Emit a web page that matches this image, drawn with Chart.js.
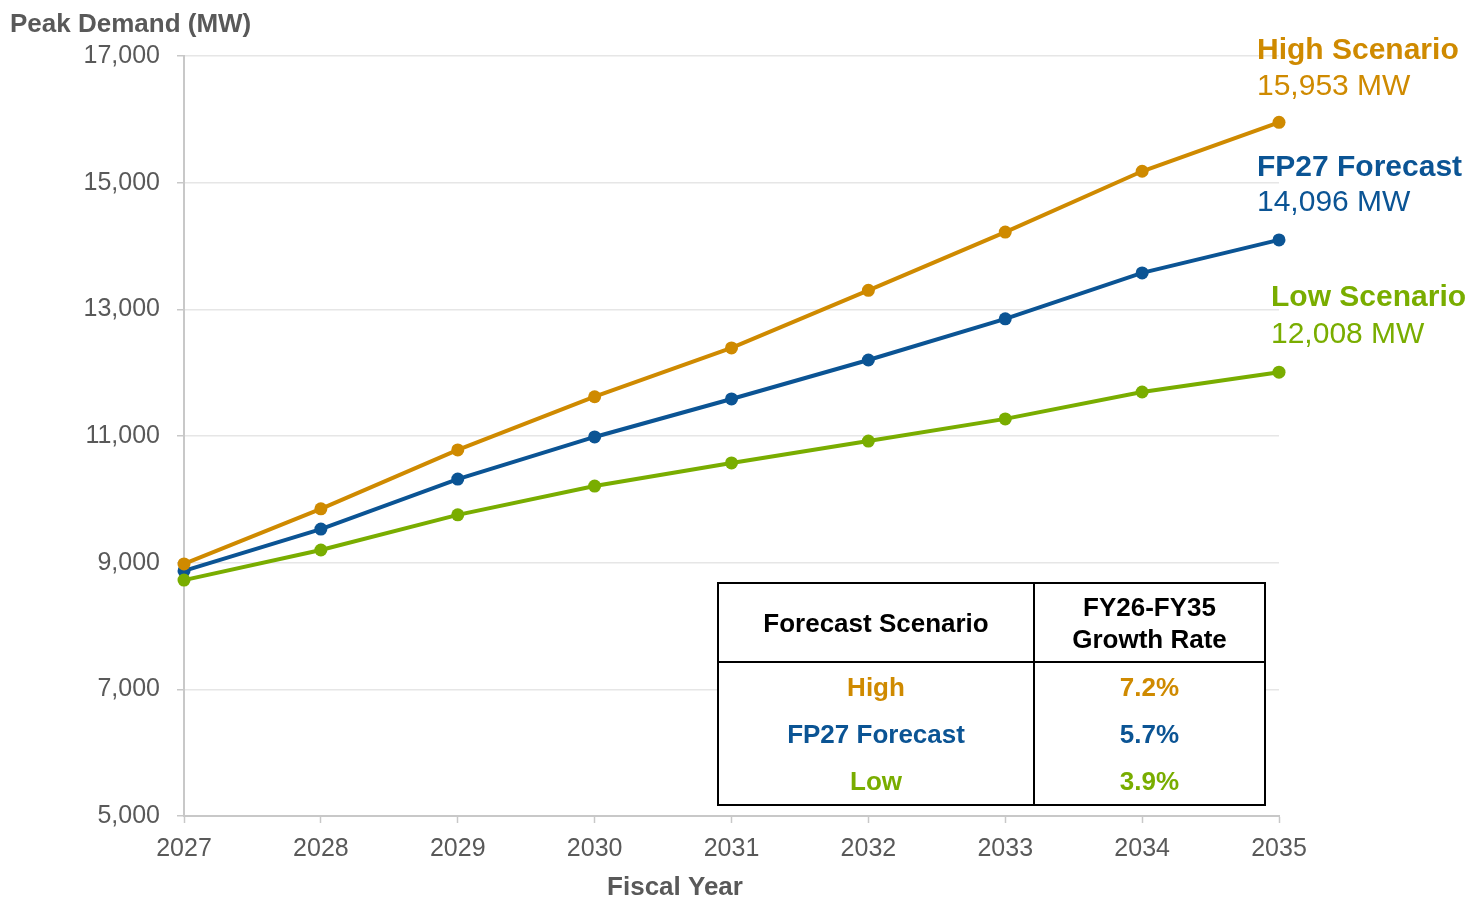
<!DOCTYPE html>
<html>
<head>
<meta charset="utf-8">
<script src="https://cdn.jsdelivr.net/npm/chart.js@4.4.1/dist/chart.umd.min.js"></script>
<style>
  html, body { margin: 0; padding: 0; background: #ffffff; }
  #wrap { position: relative; width: 1473px; height: 899px; }
</style>
</head>
<body>
<div id="wrap"><canvas id="c"></canvas></div>
<script>
// ---- Data ----
const years = ['2027', '2028', '2029', '2030', '2031', '2032', '2033', '2034', '2035'];
const highScenario = [8980, 9850, 10780, 11620, 12390, 13300, 14220, 15180, 15953];
const fp27Forecast = [8870, 9530, 10320, 10985, 11585, 12200, 12850, 13575, 14096];
const lowScenario  = [8725, 9200, 9755, 10210, 10575, 10920, 11270, 11695, 12008];
const seriesNames = ['High Scenario', 'FP27 Forecast', 'Low Scenario'];
const endLabels = ['15,953 MW', '14,096 MW', '12,008 MW'];
const tableScenarios = ['High', 'FP27 Forecast', 'Low'];
const tableRates = ['7.2%', '5.7%', '3.9%'];
const tableHeaders = ['Forecast Scenario', 'FY26-FY35', 'Growth Rate'];
const yTicks = [5000, 7000, 9000, 11000, 13000, 15000, 17000];
const yAxisTitle = 'Peak Demand (MW)';
const xAxisTitle = 'Fiscal Year';

const ORANGE = '#CF8A00';
const BLUE = '#0B5494';
const GREEN = '#79AD00';
const GREY_TEXT = '#595959';
const FONT = '"Liberation Sans", Arial, sans-serif';

function fmt(v) { return v.toString().replace(/\B(?=(\d{3})+(?!\d))/g, ','); }

const annotations = {
  id: 'annotations',
  afterDraw(chart) {
    const ctx = chart.ctx;
    const y = chart.scales.y;
    ctx.save();
    // axis titles
    ctx.fillStyle = GREY_TEXT;
    ctx.font = 'bold 26px ' + FONT;
    ctx.textAlign = 'left';
    ctx.textBaseline = 'alphabetic';
    ctx.fillText(yAxisTitle, 10, 32);
    ctx.textAlign = 'center';
    ctx.fillText(xAxisTitle, 675, 895);

    // end labels
    const sets = [highScenario, fp27Forecast, lowScenario];
    const cols = [ORANGE, BLUE, GREEN];
    const xs = [1257, 1257, 1271];
    const offs = [[63, 27], [64, 29], [66, 29]];
    for (let i = 0; i < 3; i++) {
      const last = sets[i][sets[i].length - 1];
      const py = y.getPixelForValue(last);
      ctx.fillStyle = cols[i];
      ctx.textAlign = 'left';
      ctx.font = 'bold 30px ' + FONT;
      ctx.fillText(seriesNames[i], xs[i], py - offs[i][0]);
      ctx.font = '30px ' + FONT;
      ctx.fillText(endLabels[i], xs[i], py - offs[i][1]);
    }

    // table
    const L = 718, R = 1265, T = 583, B = 805, MID = 1034, HB = 662;
    ctx.fillStyle = '#ffffff';
    ctx.fillRect(L, T, R - L, B - T);
    ctx.strokeStyle = '#000000';
    ctx.lineWidth = 2;
    ctx.strokeRect(L, T, R - L, B - T);
    ctx.beginPath();
    ctx.moveTo(MID, T); ctx.lineTo(MID, B);
    ctx.moveTo(L, HB); ctx.lineTo(R, HB);
    ctx.stroke();
    const c1 = (L + MID) / 2, c2 = (MID + R) / 2;
    ctx.font = 'bold 26px ' + FONT;
    ctx.textAlign = 'center';
    ctx.textBaseline = 'middle';
    ctx.fillStyle = '#000000';
    ctx.fillText(tableHeaders[0], c1, 625);
    ctx.fillText(tableHeaders[1], c2, 609);
    ctx.fillText(tableHeaders[2], c2, 641);
    const rowY = [689, 736, 783];
    for (let i = 0; i < 3; i++) {
      ctx.fillStyle = cols[i];
      ctx.fillText(tableScenarios[i], c1, rowY[i]);
      ctx.fillText(tableRates[i], c2, rowY[i]);
    }
    ctx.restore();
  }
};

function ds(label, data, color, order) {
  return {
    label, data, order,
    borderColor: color, backgroundColor: color,
    borderWidth: 4, pointRadius: 6.5, pointHoverRadius: 6.5,
    pointBorderWidth: 0, pointBackgroundColor: color,
    tension: 0, clip: false
  };
}

new Chart(document.getElementById('c'), {
  type: 'line',
  data: {
    labels: years,
    datasets: [
      ds(seriesNames[0], highScenario, ORANGE, 1),
      ds(seriesNames[1], fp27Forecast, BLUE, 2),
      ds(seriesNames[2], lowScenario, GREEN, 0)
    ]
  },
  options: {
    responsive: true,
    maintainAspectRatio: false,
    animation: false,
    layout: { padding: { left: 0, right: 194, top: 56, bottom: 0 } },
    plugins: { legend: { display: false }, tooltip: { enabled: false } },
    scales: {
      x: {
        type: 'category',
        offset: false,
        afterFit(s) { s.height = 83; },
        grid: { drawOnChartArea: false, drawTicks: true, tickLength: 7, tickColor: '#c8c8c8', tickWidth: 1.5 },
        border: { color: '#c8c8c8', width: 2 },
        ticks: { color: GREY_TEXT, font: { family: FONT, size: 25 }, padding: 11, maxRotation: 0, autoSkip: false }
      },
      y: {
        min: 5000, max: 17000,
        afterFit(s) { s.width = 184; },
        afterBuildTicks(s) { s.ticks = yTicks.map(v => ({ value: v })); },
        grid: { color: '#e6e6e6', lineWidth: 1.5, tickLength: 7, tickColor: '#c8c8c8', tickWidth: 1.5 },
        border: { color: '#c8c8c8', width: 2 },
        ticks: { color: GREY_TEXT, font: { family: FONT, size: 25 }, padding: 17, callback: v => fmt(v) }
      }
    }
  },
  plugins: [annotations]
});
</script>
</body>
</html>
